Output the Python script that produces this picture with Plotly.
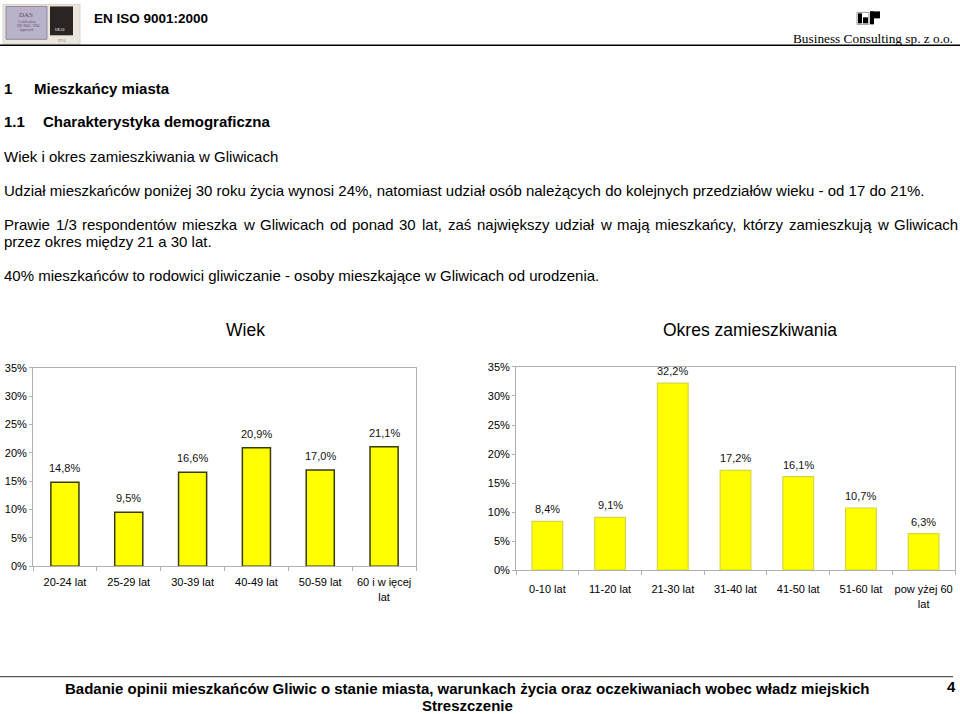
import plotly.graph_objects as go

W, H = 960, 714

# ---- data ----
age_categories = ["20-24 lat", "25-29 lat", "30-39 lat", "40-49 lat", "50-59 lat", "60 i w ięcej<br>lat"]
age_values = [14.8, 9.5, 16.6, 20.9, 17.0, 21.1]

residence_categories = ["0-10 lat", "11-20 lat", "21-30 lat", "31-40 lat", "41-50 lat", "51-60 lat", "pow yżej 60<br>lat"]
residence_values = [8.4, 9.1, 32.2, 17.2, 16.1, 10.7, 6.3]

y_tick_values = [0, 5, 10, 15, 20, 25, 30, 35]
y_tick_labels = ["0%", "5%", "10%", "15%", "20%", "25%", "30%", "35%"]

# vertical calibration of the page photograph
Y_STRETCH = 1.013


def px(x):
    return x / W


def py(y):
    yy = H / 2 + (y - H / 2) * Y_STRETCH
    return 1 - yy / H


def fmt(v):
    return f"{v:.1f}".replace(".", ",") + "%"


fig = go.Figure()

fig.add_trace(go.Bar(
    x=age_categories, y=age_values, xaxis="x", yaxis="y",
    marker=dict(color="#FFFF00", line=dict(color="#3a3a10", width=1.5)),
    width=0.44, hoverinfo="skip", showlegend=False,
))
fig.add_trace(go.Bar(
    x=residence_categories, y=residence_values, xaxis="x2", yaxis="y2",
    marker=dict(color="#FFFF00", line=dict(color="#d6d640", width=1.2)),
    width=0.49, hoverinfo="skip", showlegend=False,
))

annotations = []
for c, v in zip(age_categories, age_values):
    annotations.append(dict(x=c, y=v, xref="x", yref="y", text=fmt(v), showarrow=False,
                            yshift=14, font=dict(size=11, color="#111")))
for c, v in zip(residence_categories, residence_values):
    annotations.append(dict(x=c, y=v, xref="x2", yref="y2", text=fmt(v), showarrow=False,
                            yshift=12, font=dict(size=11, color="#111")))

ARIAL = "Liberation Sans, Arial, sans-serif"
TIMES = "Liberation Serif, Times New Roman, serif"


def txt(x, y, s, size=15, bold=False, anchor="left", family=ARIAL, color="#000"):
    if bold:
        s = "<b>" + s + "</b>"
    annotations.append(dict(x=px(x), y=py(y), xref="paper", yref="paper", text=s,
                            showarrow=False, xanchor=anchor, yanchor="middle",
                            font=dict(size=size, family=family, color=color)))


# Arial / Liberation Sans advance widths (1/1000 em) for laying out a justified line
ARIAL_W = {
    "a": 556, "b": 556, "c": 500, "d": 556, "e": 556, "f": 278, "g": 556, "h": 556,
    "i": 222, "j": 222, "k": 500, "l": 222, "m": 833, "n": 556, "o": 556, "p": 556,
    "q": 556, "r": 333, "s": 500, "t": 278, "u": 556, "v": 500, "w": 722, "x": 500,
    "y": 500, "z": 500, "P": 667, "G": 778, "/": 278, ",": 278, ".": 278, " ": 278,
    "ó": 556, "ś": 500, "ę": 556, "ą": 556, "ń": 556, "ż": 500, "ł": 222, "ź": 500,
}


def text_width(s, size):
    return sum(ARIAL_W.get(ch, 556) for ch in s) * size / 1000.0


def justified(x0, x1, y, line, size=15):
    words = line.split(" ")
    total = sum(text_width(w, size) for w in words)
    gap = (x1 - x0 - total) / (len(words) - 1)
    x = x0
    for w in words:
        txt(x, y, w, size=size)
        x += text_width(w, size) + gap


# header
txt(92, 17, "EN ISO 9001:2000", size=13.5, bold=True)
txt(955, 37, "Business Consulting sp. z o.o.", size=13.3, anchor="right", family=TIMES)
txt(17, 14, "DAS", size=7, family=TIMES, color="#5a5070")
txt(16, 21, "Certification", size=3.5, family=TIMES, color="#5a5070")
txt(15, 25, "ISO 9001: 1994", size=3.5, family=TIMES, color="#5a5070")
txt(17, 29, "Approved", size=3.5, family=TIMES, color="#5a5070")
txt(53, 29, "UKAS", size=3.5, family=TIMES, color="#ffffff")
txt(56, 40, "127-A", size=3, family=TIMES, color="#555")

# body text
txt(2, 87, "1", size=15, bold=True)
txt(32, 87, "Mieszkańcy miasta", size=15, bold=True)
txt(2, 121, "1.1", size=15, bold=True)
txt(41, 121, "Charakterystyka demograficzna", size=15, bold=True)
txt(2, 156, "Wiek i okres zamieszkiwania w Gliwicach", size=15)
txt(2, 190, "Udział mieszkańców poniżej 30 roku życia wynosi 24%, natomiast udział osób należących do kolejnych przedziałów wieku - od 17 do 21%.", size=15)
justified(2, 956, 224, "Prawie 1/3 respondentów mieszka w Gliwicach od ponad 30 lat, zaś największy udział w mają mieszkańcy, którzy zamieszkują w Gliwicach", size=15)
txt(2, 241, "przez okres między 21 a 30 lat.", size=15)
txt(2, 275, "40% mieszkańców to rodowici gliwiczanie - osoby mieszkające w Gliwicach od urodzenia.", size=15)

# chart titles
txt(246, 330, "Wiek", size=17.5, anchor="center")
txt(750, 330, "Okres zamieszkiwania", size=17.5, anchor="center")

# footer
txt(467, 690, "Badanie opinii mieszkańców Gliwic o stanie miasta, warunkach życia oraz oczekiwaniach wobec władz miejskich", size=15, bold=True, anchor="center")
txt(467, 707, "Streszczenie", size=15, bold=True, anchor="center")
txt(951, 688, "4", size=15, bold=True, anchor="center")

shapes = []


def rect(x0, y0, x1, y1, fill, line="rgba(0,0,0,0)", lw=0):
    shapes.append(dict(type="rect", xref="paper", yref="paper", x0=px(x0), x1=px(x1),
                       y0=py(y1), y1=py(y0), fillcolor=fill, line=dict(color=line, width=lw)))


def hline(x0, x1, y, color="#000", lw=1.5):
    shapes.append(dict(type="line", xref="paper", yref="paper", x0=px(x0), x1=px(x1),
                       y0=py(y), y1=py(y), line=dict(color=color, width=lw)))


# left logo
rect(3, 3, 80, 43, "#e9e6dc", "#d8d4c8", 1)
rect(6, 5, 47, 38, "#b9b2c8", "#8f879f", 1)
rect(50, 5, 73, 34, "#2a2422")
# right logo
rect(857, 11, 869, 23, "#ffffff", "#999999", 1)
rect(858, 12, 862, 22, "#000000")
rect(863, 16, 868, 22, "#000000")
rect(870, 10, 880, 17, "#000000")
rect(870, 10, 874, 23, "#000000")

hline(0, 960, 44, "#000", 1.6)
hline(0, 953, 678, "#555", 1.2)

axis_common = dict(showline=True, linecolor="#b0b0b0", linewidth=1, mirror=True,
                   showgrid=False, zeroline=False, fixedrange=True)
fig.update_layout(
    width=W, height=H, margin=dict(l=0, r=0, t=0, b=0),
    paper_bgcolor="white", plot_bgcolor="white",
    separators=",.",
    font=dict(family=ARIAL, color="#000", size=11),
    xaxis=dict(domain=[px(33), px(416)], anchor="y", ticks="outside", ticklen=4, tickangle=0,
               ticklabelstandoff=6,
               tickcolor="#b0b0b0", tickson="boundaries", tickfont=dict(size=11), **axis_common),
    yaxis=dict(domain=[py(567), py(368)], anchor="x", range=[0, 35], tickvals=y_tick_values,
               ticktext=y_tick_labels, ticks="outside", ticklen=3, tickcolor="#b0b0b0",
               tickfont=dict(size=11), **axis_common),
    xaxis2=dict(domain=[px(516), px(955)], anchor="y2", ticks="outside", ticklen=4, tickangle=0,
                ticklabelstandoff=9,
                tickcolor="#b0b0b0", tickson="boundaries", tickfont=dict(size=11), **axis_common),
    yaxis2=dict(domain=[py(571), py(367)], anchor="x2", range=[0, 35], tickvals=y_tick_values,
                ticktext=y_tick_labels, ticks="outside", ticklen=3, tickcolor="#b0b0b0",
                tickfont=dict(size=11), **axis_common),
    annotations=annotations, shapes=shapes,
)

fig.write_html(
    "out.html",
    config={"displayModeBar": False},
    post_script=(
        "document.documentElement.style.margin='0';document.documentElement.style.overflow='hidden';"
        "document.body.style.margin='0';document.body.style.overflow='hidden';"
        "var d=document.getElementById('{plot_id}');d.style.position='fixed';d.style.top='0px';d.style.left='0px';"
    ),
)
